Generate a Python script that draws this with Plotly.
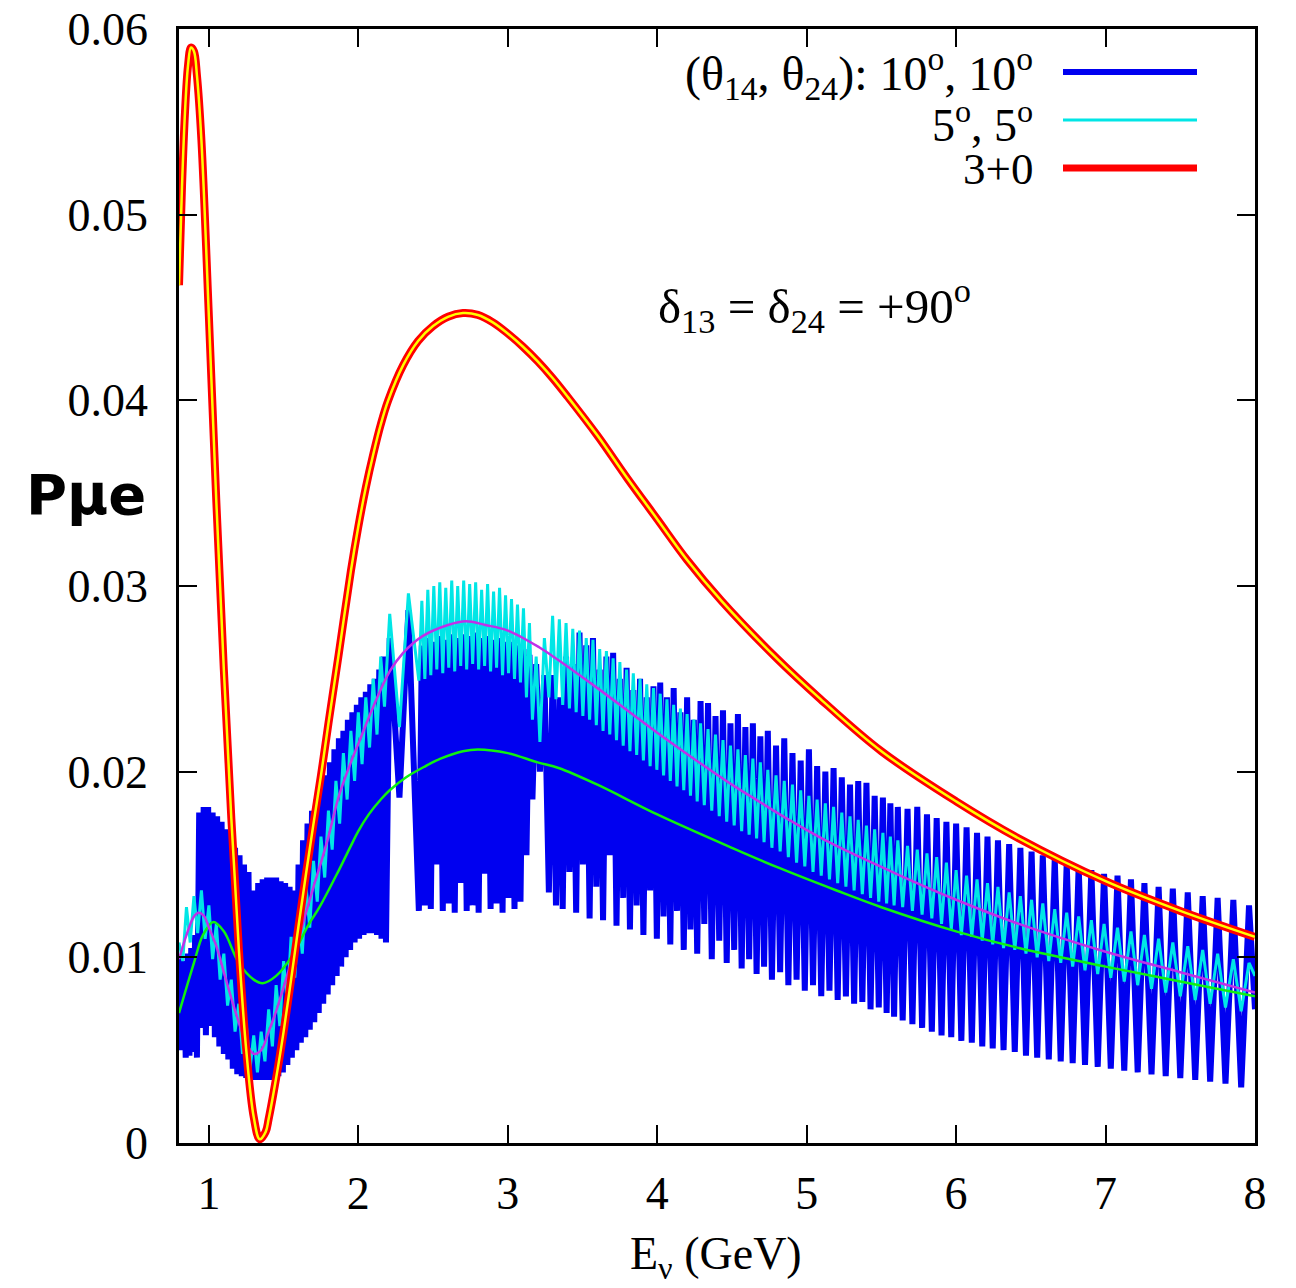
import plotly.graph_objects as go

# ---------------- smooth curves ----------------
# 3+0 (standard three-flavour) probability
red_x = [0.80, 0.82, 0.84, 0.86, 0.88, 0.90, 0.92, 0.95, 1.00, 1.05, 1.10, 1.15, 1.20, 1.25,
         1.30, 1.34, 1.38, 1.40, 1.45, 1.50, 1.55, 1.60, 1.65, 1.70, 1.75, 1.80, 1.87, 1.95,
         2.00, 2.05, 2.10, 2.15, 2.20, 2.30, 2.40, 2.50, 2.60, 2.70, 2.80, 2.90, 3.00, 3.10,
         3.20, 3.30, 3.40, 3.60, 3.80, 4.00, 4.20, 4.43, 4.80, 5.08, 5.50, 6.00, 6.42, 7.00,
         7.50, 8.00]
red_y = [0.0462, 0.0515, 0.0555, 0.0580, 0.0590, 0.0588, 0.0575, 0.0540, 0.0445, 0.0345,
         0.0255, 0.0175, 0.0105, 0.0050, 0.0014, 0.0002, 0.0006, 0.0013, 0.0035, 0.0060,
         0.0088, 0.0117, 0.0145, 0.0172, 0.0198, 0.0226, 0.0264, 0.0308, 0.0332, 0.0353,
         0.0371, 0.0387, 0.0400, 0.0419, 0.0432, 0.0440, 0.0445, 0.0447, 0.0446, 0.0442,
         0.0436, 0.0429, 0.0421, 0.0412, 0.0402, 0.0381, 0.0358, 0.0336, 0.0314, 0.0292,
         0.0261, 0.0240, 0.0211, 0.0184, 0.0164, 0.0141, 0.0125, 0.0111]

# averaged probability, (5°, 5°)
mag_x = [0.80, 0.85, 0.90, 0.93, 0.97, 1.00, 1.05, 1.10, 1.15, 1.20, 1.25, 1.30, 1.35, 1.40,
         1.45, 1.50, 1.55, 1.60, 1.65, 1.70, 1.75, 1.80, 1.87, 1.95, 2.00, 2.10, 2.21, 2.30,
         2.43, 2.60, 2.72, 2.85, 3.00, 3.21, 3.34, 3.60, 4.00, 4.50, 4.68, 4.82, 5.15, 5.60,
         6.00, 6.42, 7.00, 7.50, 8.00]
mag_y = [0.0099, 0.0112, 0.0122, 0.0124, 0.0122, 0.0116, 0.0106, 0.0092, 0.0078, 0.0065,
         0.0054, 0.0048, 0.0050, 0.0060, 0.0071, 0.0084, 0.0097, 0.0110, 0.0124, 0.0138,
         0.0151, 0.0165, 0.0187, 0.0205, 0.0215, 0.0235, 0.0254, 0.0264, 0.0273, 0.0279,
         0.0281, 0.0279, 0.0276, 0.0267, 0.0260, 0.0245, 0.0221, 0.0193, 0.0184, 0.0177,
         0.0162, 0.0145, 0.0131, 0.0118, 0.0103, 0.0092, 0.0081]

# averaged probability, (10°, 10°)
grn_x = [0.80, 0.90, 0.96, 1.03, 1.10, 1.20, 1.30, 1.36, 1.45, 1.55, 1.67, 1.74, 1.87, 1.95,
         2.00, 2.07, 2.15, 2.21, 2.32, 2.45, 2.55, 2.70, 2.80, 3.00, 3.20, 3.34, 3.60, 4.00,
         4.50, 4.82, 5.20, 5.50, 6.00, 6.42, 7.00, 7.50, 8.00]
grn_y = [0.0070, 0.0097, 0.0112, 0.0119, 0.0114, 0.0097, 0.0088, 0.0086, 0.0090, 0.0100,
         0.0118, 0.0127, 0.0147, 0.0160, 0.0168, 0.0177, 0.0185, 0.0190, 0.0197, 0.0203,
         0.0207, 0.0211, 0.0212, 0.0210, 0.0205, 0.0202, 0.0193, 0.0177, 0.0159, 0.0148,
         0.0136, 0.0127, 0.0114, 0.0105, 0.0095, 0.0087, 0.0079]

# ---------------- oscillating curves, 0.8 - 3.3 GeV ----------------
blue_low_x = [0.800, 0.810, 0.820, 0.832, 0.845, 0.858, 0.870, 0.882, 0.895, 0.908, 0.920,
              0.935, 0.950, 0.965, 0.980, 0.995, 1.010, 1.025, 1.040, 1.055, 1.070, 1.085,
              1.100, 1.115, 1.130, 1.145, 1.160, 1.175, 1.190, 1.205, 1.220, 1.235, 1.250,
              1.265, 1.280, 1.300, 1.315, 1.330, 1.345, 1.360, 1.375, 1.390, 1.405, 1.420,
              1.435, 1.450, 1.465, 1.480, 1.495, 1.510, 1.525, 1.540, 1.555, 1.570, 1.585,
              1.600, 1.615, 1.630, 1.645, 1.660, 1.675, 1.690, 1.705, 1.720, 1.735, 1.750,
              1.765, 1.780, 1.795, 1.810, 1.825, 1.840, 1.855, 1.870, 1.885, 1.900, 1.915,
              1.930, 1.945, 1.960, 1.975, 1.990, 2.005, 2.020, 2.035, 2.050, 2.065, 2.080,
              2.095, 2.110, 2.125, 2.140, 2.155, 2.170, 2.185, 2.210, 2.275, 2.335, 2.405,
              2.425, 2.445, 2.465, 2.485, 2.505, 2.525, 2.545, 2.565, 2.585, 2.605, 2.625,
              2.645, 2.665, 2.685, 2.705, 2.725, 2.745, 2.765, 2.785, 2.805, 2.825, 2.845,
              2.865, 2.885, 2.905, 2.925, 2.945, 2.965, 2.985, 3.005, 3.025, 3.045, 3.065,
              3.085, 3.105, 3.125, 3.145, 3.165, 3.190, 3.215, 3.245, 3.275]
blue_low_y = [0.0068, 0.0100, 0.0050, 0.0098, 0.0046, 0.0102, 0.0047, 0.0105, 0.0049, 0.0112,
              0.0046, 0.0178, 0.0062, 0.0181, 0.0058, 0.0181, 0.0063, 0.0178, 0.0057, 0.0176,
              0.0052, 0.0173, 0.0048, 0.0169, 0.0045, 0.0164, 0.0040, 0.0159, 0.0037, 0.0155,
              0.0036, 0.0150, 0.0035, 0.0146, 0.0034, 0.0136, 0.0034, 0.0140, 0.0034, 0.0142,
              0.0034, 0.0143, 0.0034, 0.0143, 0.0035, 0.0143, 0.0036, 0.0141, 0.0038, 0.0140,
              0.0042, 0.0138, 0.0046, 0.0136, 0.0050, 0.0150, 0.0054, 0.0163, 0.0057, 0.0172,
              0.0061, 0.0179, 0.0065, 0.0185, 0.0070, 0.0192, 0.0075, 0.0198, 0.0080, 0.0205,
              0.0085, 0.0212, 0.0090, 0.0218, 0.0095, 0.0222, 0.0100, 0.0228, 0.0104, 0.0232,
              0.0108, 0.0236, 0.0110, 0.0240, 0.0112, 0.0243, 0.0113, 0.0247, 0.0113, 0.0250,
              0.0112, 0.0255, 0.0110, 0.0262, 0.0108, 0.0272, 0.0186, 0.0287, 0.0125,
              0.0268, 0.0128, 0.0272, 0.0126, 0.0270, 0.0150, 0.0273, 0.0125, 0.0271, 0.0129,
              0.0274, 0.0124, 0.0272, 0.0140, 0.0274, 0.0125, 0.0273, 0.0128, 0.0275, 0.0124,
              0.0272, 0.0145, 0.0273, 0.0126, 0.0271, 0.0129, 0.0272, 0.0124, 0.0270, 0.0132,
              0.0270, 0.0126, 0.0268, 0.0130, 0.0266, 0.0155, 0.0263, 0.0185, 0.0258, 0.0200,
              0.0252, 0.0135]

cyan_low_x = [0.800, 0.825, 0.850, 0.875, 0.900, 0.925, 0.950, 0.975, 1.000, 1.025, 1.050,
              1.075, 1.100, 1.125, 1.150, 1.175, 1.200, 1.225, 1.250, 1.275, 1.300, 1.325,
              1.350, 1.375, 1.400, 1.425, 1.450, 1.475, 1.500, 1.525, 1.550, 1.575, 1.600,
              1.625, 1.650, 1.675, 1.700, 1.725, 1.750, 1.775, 1.800, 1.825, 1.850, 1.875,
              1.900, 1.925, 1.950, 1.975, 2.000, 2.025, 2.050, 2.075, 2.100, 2.125, 2.150,
              2.175, 2.210, 2.275, 2.335, 2.405,
              2.425, 2.445, 2.465, 2.485, 2.505, 2.525, 2.545, 2.565, 2.585, 2.605, 2.625,
              2.645, 2.665, 2.685, 2.705, 2.725, 2.745, 2.765, 2.785, 2.805, 2.825, 2.845,
              2.865, 2.885, 2.905, 2.925, 2.945, 2.965, 2.985, 3.005, 3.025, 3.045, 3.065,
              3.085, 3.105, 3.125, 3.145, 3.165, 3.190, 3.215, 3.245, 3.275]
cyan_low_y = [0.0108, 0.0098, 0.0127, 0.0108, 0.0133, 0.0113, 0.0136, 0.0110, 0.0128, 0.0099,
              0.0118, 0.0088, 0.0102, 0.0074, 0.0088, 0.0060, 0.0075, 0.0048, 0.0064, 0.0040,
              0.0058, 0.0038, 0.0060, 0.0044, 0.0072, 0.0052, 0.0085, 0.0063, 0.0098, 0.0075,
              0.0111, 0.0089, 0.0124, 0.0102, 0.0138, 0.0116, 0.0152, 0.0130, 0.0165, 0.0143,
              0.0179, 0.0158, 0.0195, 0.0172, 0.0210, 0.0185, 0.0222, 0.0195, 0.0232, 0.0204,
              0.0240, 0.0213, 0.0250, 0.0220, 0.0262, 0.0235, 0.0285, 0.0224, 0.0296, 0.0249,
              0.0292, 0.0250, 0.0298, 0.0252, 0.0300, 0.0255, 0.0302, 0.0253, 0.0299, 0.0256,
              0.0303, 0.0254, 0.0300, 0.0257, 0.0303, 0.0255, 0.0301, 0.0258, 0.0302, 0.0255,
              0.0298, 0.0257, 0.0301, 0.0254, 0.0297, 0.0256, 0.0299, 0.0252, 0.0295, 0.0253,
              0.0293, 0.0250, 0.0290, 0.0248, 0.0288, 0.0240, 0.0280, 0.0228, 0.0262, 0.0216,
              0.0272, 0.0240]

# ---------------- oscillating curves, 3.3 - 8 GeV (one entry per wiggle) ----------------
peak_x = [3.300, 3.345, 3.390, 3.435, 3.480, 3.525, 3.570, 3.615, 3.660, 3.705, 3.750,
          3.795, 3.840, 3.885, 3.930, 3.975, 4.020, 4.065, 4.110, 4.155, 4.200, 4.245,
          4.290, 4.340, 4.390, 4.440, 4.490, 4.540, 4.590, 4.640, 4.690,
          4.740, 4.795, 4.850, 4.905, 4.960, 5.015, 5.070, 5.125, 5.180, 5.235, 5.290,
          5.345, 5.400, 5.455, 5.510,
          5.560, 5.610,
          5.675, 5.740, 5.805, 5.870, 5.935, 6.000,
          6.070, 6.140, 6.210, 6.280,
          6.355, 6.430, 6.505, 6.580,
          6.660, 6.740, 6.820,
          6.905, 6.990,
          7.080, 7.170, 7.260,
          7.355, 7.450,
          7.550, 7.650, 7.750,
          7.855, 7.960]
dip_x = [3.3225, 3.3675, 3.4125, 3.4575, 3.5025, 3.5475, 3.5925, 3.6375, 3.6825, 3.7275,
         3.7725, 3.8175, 3.8625, 3.9075, 3.9525, 3.9975, 4.0425, 4.0875, 4.1325, 4.1775,
         4.2225, 4.2675,
         4.315, 4.365, 4.415, 4.465, 4.515, 4.565, 4.615, 4.665, 4.715,
         4.7675, 4.8225, 4.8775, 4.9325, 4.9875, 5.0425, 5.0975, 5.1525, 5.2075, 5.2625,
         5.3175, 5.3725, 5.4275, 5.4825, 5.535,
         5.585, 5.6425,
         5.7075, 5.7725, 5.8375, 5.9025, 5.9675, 6.035,
         6.105, 6.175, 6.245, 6.3175,
         6.3925, 6.4675, 6.5425, 6.620,
         6.700, 6.780, 6.8625,
         6.9475, 7.035,
         7.125, 7.215, 7.3075,
         7.4025, 7.500,
         7.600, 7.700, 7.8025,
         7.9075, 8.000]
blue_hi = [0.0252, 0.0240, 0.0262, 0.0258, 0.0275, 0.0268, 0.0272, 0.0255, 0.0262, 0.0264,
           0.0250, 0.0256, 0.0244, 0.0250, 0.0240, 0.0246, 0.0248, 0.0240, 0.0245, 0.0232,
           0.0240, 0.0228,
           0.0238, 0.0237, 0.0230, 0.0233, 0.0226, 0.0231, 0.0224, 0.0226, 0.0219,
           0.0222, 0.0214, 0.0218, 0.0210, 0.0206, 0.0212, 0.0203, 0.0200, 0.0202, 0.0197,
           0.0193, 0.0195, 0.0194, 0.0187, 0.0186,
           0.0183, 0.0181,
           0.0180, 0.0181, 0.0177, 0.0175, 0.0173, 0.0172,
           0.0170, 0.0167, 0.0165, 0.0163,
           0.0161, 0.0159, 0.0157, 0.0155,
           0.0153, 0.0151, 0.0149,
           0.0147, 0.0145,
           0.0144, 0.0142, 0.0140,
           0.0138, 0.0137,
           0.0135, 0.0133, 0.0132,
           0.0131, 0.0128]
blue_lo = [0.0128, 0.0126, 0.0146, 0.0124, 0.0150, 0.0121, 0.0138, 0.0120, 0.0155, 0.0117,
           0.0132, 0.0115, 0.0128, 0.0112, 0.0136, 0.0110, 0.0122, 0.0107, 0.0125, 0.0104,
           0.0115, 0.0102,
           0.0118, 0.0099, 0.0109, 0.0097, 0.0104, 0.0094, 0.0099, 0.0091, 0.0095,
           0.0088, 0.0092, 0.0085, 0.0088, 0.0082, 0.0085, 0.0079, 0.0082, 0.0077, 0.0079,
           0.0075, 0.0076, 0.0072, 0.0073, 0.0070,
           0.0068, 0.0066,
           0.0064, 0.0062, 0.0060, 0.0058, 0.0057, 0.0055,
           0.0054, 0.0052, 0.0051, 0.0050,
           0.0049, 0.0047, 0.0046, 0.0045,
           0.0044, 0.0043, 0.0042,
           0.0041, 0.0040,
           0.0039, 0.0038, 0.0037,
           0.0036, 0.0035,
           0.0034, 0.0033, 0.0032,
           0.0030, 0.0072]
cyan_hi = [0.0284, 0.0282, 0.0280, 0.0277, 0.0276, 0.0272, 0.0271, 0.0266, 0.0265, 0.0261,
           0.0259, 0.0255, 0.0253, 0.0250, 0.0247, 0.0245, 0.0242, 0.0239, 0.0236, 0.0234,
           0.0231, 0.0228,
           0.0226, 0.0223, 0.0220, 0.0217, 0.0214, 0.0212, 0.0209, 0.0207, 0.0205,
           0.0201, 0.0198, 0.0195, 0.0193, 0.0190, 0.0187, 0.0185, 0.0183, 0.0181, 0.0178,
           0.0176, 0.0174, 0.0171, 0.0169, 0.0167,
           0.0165, 0.0163,
           0.0160, 0.0158, 0.0156, 0.0154, 0.0151, 0.0147,
           0.0144, 0.0142, 0.0140, 0.0138,
           0.0135, 0.0133, 0.0131, 0.0129,
           0.0126, 0.0124, 0.0122,
           0.0120, 0.0118,
           0.0116, 0.0114, 0.0112,
           0.0110, 0.0108,
           0.0106, 0.0104, 0.0102,
           0.0099, 0.0097]
cyan_lo = [0.0239, 0.0236, 0.0234, 0.0232, 0.0230, 0.0228, 0.0225, 0.0222, 0.0220, 0.0217,
           0.0214, 0.0211, 0.0209, 0.0206, 0.0203, 0.0201, 0.0198, 0.0195, 0.0192, 0.0190,
           0.0187, 0.0184,
           0.0182, 0.0179, 0.0176, 0.0173, 0.0171, 0.0168, 0.0166, 0.0164, 0.0162,
           0.0159, 0.0157, 0.0154, 0.0151, 0.0149, 0.0146, 0.0144, 0.0142, 0.0140, 0.0138,
           0.0136, 0.0134, 0.0132, 0.0130, 0.0129,
           0.0128, 0.0127,
           0.0125, 0.0123, 0.0121, 0.0118, 0.0115, 0.0112,
           0.0111, 0.0109, 0.0107, 0.0105,
           0.0104, 0.0102, 0.0100, 0.0098,
           0.0097, 0.0095, 0.0093,
           0.0091, 0.0089,
           0.0087, 0.0085, 0.0083,
           0.0081, 0.0079,
           0.0077, 0.0075, 0.0073,
           0.0071, 0.0090]

x_ticks = [1, 2, 3, 4, 5, 6, 7, 8]
y_ticks = [0, 0.01, 0.02, 0.03, 0.04, 0.05, 0.06]
y_tick_text = ["0", "0.01", "0.02", "0.03", "0.04", "0.05", "0.06"]


def wiggle(lo_x, lo_y, px, hi, dx, lo):
    """Join the low-energy vertices with the peak/dip entries of the high-energy part."""
    xs, ys = list(lo_x), list(lo_y)
    for a, b, c, d in zip(px, hi, dx, lo):
        xs += [a, c]
        ys += [b, d]
    return xs, ys


blue_x, blue_y = wiggle(blue_low_x, blue_low_y, peak_x, blue_hi, dip_x, blue_lo)
cyan_x, cyan_y = wiggle(cyan_low_x, cyan_low_y, peak_x, cyan_hi, dip_x, cyan_lo)

BLUE = "#0000f0"
CYAN = "#00e6e6"
RED = "#ff0000"
YELLOW = "#ffff00"
MAGENTA = "#c030e8"
GREEN = "#10f010"
SERIF = "Liberation Serif"

fig = go.Figure()
fig.add_trace(go.Scatter(x=blue_x, y=blue_y, mode="lines",
                         line=dict(color=BLUE, width=6, simplify=False), showlegend=False))
fig.add_trace(go.Scatter(x=cyan_x, y=cyan_y, mode="lines",
                         line=dict(color=CYAN, width=3, simplify=False), showlegend=False))
fig.add_trace(go.Scatter(x=grn_x, y=grn_y, mode="lines", line_shape="spline",
                         line=dict(color=GREEN, width=2.5), showlegend=False))
fig.add_trace(go.Scatter(x=mag_x, y=mag_y, mode="lines", line_shape="spline",
                         line=dict(color=MAGENTA, width=2.5), showlegend=False))
fig.add_trace(go.Scatter(x=red_x, y=red_y, mode="lines", line_shape="spline",
                         line=dict(color=RED, width=8), showlegend=False))
fig.add_trace(go.Scatter(x=red_x, y=red_y, mode="lines", line_shape="spline",
                         line=dict(color=YELLOW, width=2.5), showlegend=False))

# plot area in pixels: x 179..1255, y 29..1143
L, R, T, B = 179, 1255, 29, 1143


def px(xp):
    return (xp - L) / (R - L)


def py(yp):
    return (B - yp) / (B - T)


axis_font = dict(family=SERIF, size=46, color="black")
common = dict(showgrid=False, zeroline=False, showline=True, linecolor="black", linewidth=2.5,
              mirror="ticks", ticks="inside", ticklen=18, tickwidth=2, tickcolor="black",
              tickfont=axis_font, automargin=False)

fig.update_layout(
    width=1296, height=1288,
    margin=dict(l=L, r=1296 - R, t=T, b=1288 - B, autoexpand=False),
    paper_bgcolor="white", plot_bgcolor="white",
    xaxis=dict(range=[0.8, 8.0], tickvals=x_ticks, ticklabelstandoff=8, **common),
    yaxis=dict(range=[0, 0.06], tickvals=y_ticks, ticktext=y_tick_text,
               ticklabelstandoff=19, **common),
    showlegend=False,
)

annotations = [
    dict(text="E<sub>ν</sub> (GeV)", x=px(716), y=py(1257), xanchor="center", yanchor="middle",
         font=dict(family=SERIF, size=46, color="black")),
    dict(text="<b>Pμe</b>", x=px(86), y=py(494), xanchor="center", yanchor="middle",
         font=dict(family="DejaVu Sans", size=56, color="black")),
    dict(text="δ<sub>13</sub> = δ<sub>24</sub> = +90<sup>o</sup>", x=px(656), y=py(306),
         xanchor="left", yanchor="middle", font=dict(family=SERIF, size=49, color="black")),
    dict(text="(θ<sub>14</sub>, θ<sub>24</sub>): 10<sup>o</sup>, 10<sup>o</sup>", x=px(1035),
         y=py(74), xanchor="right", yanchor="middle",
         font=dict(family=SERIF, size=48, color="black")),
    dict(text="5<sup>o</sup>, 5<sup>o</sup>", x=px(1035), y=py(122), xanchor="right",
         yanchor="middle", font=dict(family=SERIF, size=46, color="black")),
    dict(text="3+0", x=px(1035), y=py(169), xanchor="right", yanchor="middle",
         font=dict(family=SERIF, size=45, color="black")),
]
for a in annotations:
    a.update(xref="paper", yref="paper", showarrow=False)
fig.update_layout(annotations=annotations)

legend_keys = [(72, BLUE, 6), (120, CYAN, 3), (168, RED, 7)]
for yk, col, w in legend_keys:
    fig.add_shape(type="line", xref="paper", yref="paper", x0=px(1063), x1=px(1197),
                  y0=py(yk), y1=py(yk), line=dict(color=col, width=w))

fig.write_html("out.html")
